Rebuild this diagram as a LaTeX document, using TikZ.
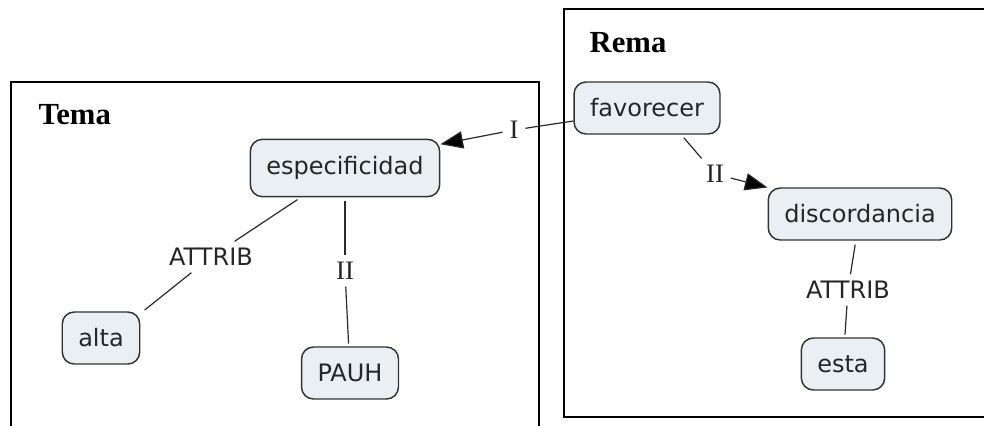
\documentclass[tikz,border=0pt]{standalone}
\usepackage{fontspec}
\setmainfont{Liberation Serif}
\newfontfamily\cmapfont{DejaVu Sans}
\usetikzlibrary{arrows.meta}
\definecolor{conceptfill}{HTML}{E9EFF2}
\definecolor{conceptline}{HTML}{333333}
\definecolor{linkline}{HTML}{2A2A2A}

\begin{document}
\begin{tikzpicture}[x=0.75pt,y=-0.75pt]
    % Styles for concepts, link labels and lines
    \tikzset{
      concept/.style={rectangle, rounded corners=9pt, draw=conceptline, line width=1.1pt, fill=conceptfill, text=black!85, font=\cmapfont\fontsize{18}{20}\selectfont, inner xsep=12pt, minimum height=39pt},
      linklabel/.style={inner sep=5pt, text=black!85},
      seriflabel/.style={linklabel, font=\fontsize{20}{22}\selectfont},
      sanslabel/.style={linklabel, font=\cmapfont\fontsize{18}{20}\selectfont},
      link/.style={draw=linkline, line width=0.9pt},
      arrow/.style={link, -{Triangle[length=17pt,width=13pt,fill=black]}},
      region/.style={draw=black, line width=1.2pt},
      regiontitle/.style={anchor=base west, font=\bfseries\fontsize{23}{26}\selectfont}
    }
    \useasboundingbox (0,0) rectangle (984,425);
    \clip (0,0) rectangle (984,425);

    % Regions with their titles
    \draw[region] (11,430) -- (11,82) -- (539,82) -- (539,430);
    \draw[region] (995,417) -- (564,417) -- (564,9) -- (995,9);
    \node[regiontitle] (tema) at (34,124) {Tema};
    \node[regiontitle] (rema) at (585,52) {Rema};

    % Concepts with explicit coordinates
    \node[concept, minimum height=43pt] (esp) at (345,168) {especificidad};
    \node[concept] (alta) at (101,338) {alta};
    \node[concept] (pauh) at (350,373) {PAUH};
    \node[concept] (fav) at (647,108) {favorecer};
    \node[concept] (disc) at (860,214) {discordancia};
    \node[concept] (esta) at (843,364) {esta};

    % Link labels
    \node[seriflabel] (lblI) at (514,130) {I};
    \node[seriflabel] (lblIIa) at (345,271) {II};
    \node[sanslabel] (attribA) at (211,257) {ATTRIB};
    \node[seriflabel] (lblIIb) at (715,174) {II};
    \node[sanslabel] (attribB) at (848,290) {ATTRIB};

    % Lines and arrows
    \draw[link] (fav.190) -- (lblI);
    \draw[arrow] (lblI) -- (esp.14);
    \draw[link, shorten <=3pt] (fav.-38) -- (lblIIb);
    \draw[arrow] (lblIIb) -- (disc.164);
    \draw[link, shorten <=3pt] (esp) -- (attribA);
    \draw[link, shorten >=4pt] (attribA) -- (alta.32);
    \draw[link, shorten <=3pt] (esp) -- (lblIIa);
    \draw[link, shorten >=2pt] (lblIIa) -- (pauh);
    \draw[link, shorten <=3pt] (disc) -- (attribB);
    \draw[link, shorten >=2pt] (attribB) -- (esta);

\end{tikzpicture}
\end{document}
